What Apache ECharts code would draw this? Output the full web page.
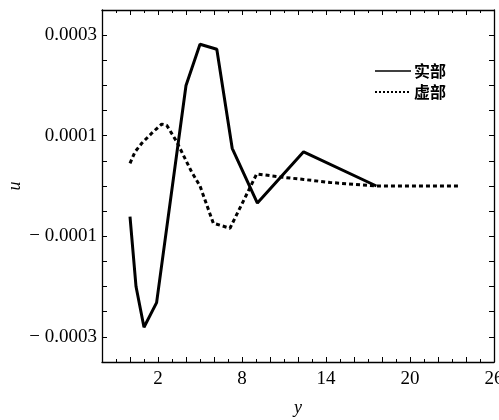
<!DOCTYPE html>
<html>
<head>
<meta charset="utf-8">
<script src="https://cdn.jsdelivr.net/npm/echarts@6/dist/echarts.min.js"></script>
<style>html,body{margin:0;padding:0;background:#fff;}#c{width:499px;height:420px;}</style>
</head>
<body>
<div id="c"></div>
<script>
// Real part (实部): [y, u]
const realX = [0, 0.43, 1.0, 1.9, 4.0, 5.0, 6.2, 7.3, 9.1, 12.4, 17.6];
const realU = [-0.61e-4, -2.0e-4, -2.81e-4, -2.32e-4, 2.0e-4, 2.82e-4, 2.72e-4, 0.75e-4, -0.34e-4, 0.68e-4, 0];
// Imaginary part (虚部)
const imagX = [0, 0.36, 0.84, 1.55, 2.26, 2.62, 3.34, 4.4, 5.0, 5.95, 7.14, 9.05, 10.7, 12.4, 14.3, 17.6, 23.6];
const imagU = [0.45e-4, 0.68e-4, 0.85e-4, 1.05e-4, 1.23e-4, 1.21e-4, 0.88e-4, 0.28e-4, 0, -0.74e-4, -0.84e-4, 0.24e-4, 0.18e-4, 0.13e-4, 0.07e-4, 0, 0];
const xTickLabels = [2, 8, 14, 20, 26];
const yTickLabels = [0.0003, 0.0001, -0.0001, -0.0003];
const seriesNames = ['实部', '虚部'];

const serif = "'Liberation Serif','Times New Roman','Noto Sans CJK SC',serif";
const zip = (xs, ys) => xs.map((x, i) => [x, ys[i]]);

const chart = echarts.init(document.getElementById('c'));
const baseX = {
  type: 'value', min: -2, max: 26, interval: 2,
  axisLine: { show: true, onZero: false, lineStyle: { color: '#000', width: 1.3 } },
  axisTick: { show: true, inside: true, length: 5, lineStyle: { color: '#000' } },
  minorTick: { show: true, splitNumber: 2, length: 3, lineStyle: { color: '#000' } },
  splitLine: { show: false }
};
const baseY = {
  type: 'value', min: -0.00035, max: 0.00035, interval: 0.00005,
  axisLine: { show: true, onZero: false, lineStyle: { color: '#000', width: 1.3 } },
  axisTick: { show: true, inside: true, length: 5, lineStyle: { color: '#000' } },
  splitLine: { show: false }
};
const fmtY = v => {
  for (const t of yTickLabels) {
    if (Math.abs(v - t) < 1e-9) {
      return t < 0 ? '\u2212 ' + Math.abs(t).toFixed(4) : t.toFixed(4);
    }
  }
  return '';
};
const fmtX = v => {
  for (const t of xTickLabels) if (Math.abs(v - t) < 1e-6) return String(t);
  return '';
};

chart.setOption({
  animation: false,
  backgroundColor: '#fff',
  grid: { left: 102, right: 5, top: 10, bottom: 58, containLabel: false, outerBoundsMode: 'none' },
  legend: {
    orient: 'vertical', left: 369, top: 58, itemWidth: 36, itemHeight: 10, itemGap: 5,
    itemStyle: { opacity: 0 },
    textStyle: { fontFamily: "'Noto Sans CJK SC',serif", fontSize: 16, fontWeight: 'bold', color: '#000', padding: [0, 0, 0, -2] },
    data: [
      { name: seriesNames[0], lineStyle: { width: 1.5 } },
      { name: seriesNames[1], lineStyle: { width: 2, type: [2, 2] } }
    ]
  },
  xAxis: [
    Object.assign({}, baseX, {
      position: 'bottom', name: 'y', nameLocation: 'middle', nameGap: 37, nameMoveOverlap: false,
      nameTextStyle: { fontFamily: serif, fontStyle: 'italic', fontSize: 18, color: '#000' },
      axisLabel: { show: true, formatter: fmtX, margin: 8, fontFamily: serif, fontSize: 19, color: '#000' }
    }),
    Object.assign({}, baseX, { position: 'top', axisLabel: { show: false } })
  ],
  yAxis: [
    Object.assign({}, baseY, {
      position: 'left', name: 'u', nameLocation: 'middle', nameGap: 78, nameRotate: 90, nameMoveOverlap: false,
      nameTextStyle: { fontFamily: serif, fontStyle: 'italic', fontSize: 18, color: '#000' },
      axisLabel: { show: true, formatter: fmtY, margin: 5, fontFamily: serif, fontSize: 19, color: '#000' }
    }),
    Object.assign({}, baseY, { position: 'right', axisLabel: { show: false } })
  ],
  series: [
    { name: seriesNames[0], type: 'line', data: zip(realX, realU), showSymbol: false, symbol: 'none',
      lineStyle: { color: '#000', width: 3, type: 'solid' }, itemStyle: { color: '#000' } },
    { name: seriesNames[1], type: 'line', data: zip(imagX, imagU), showSymbol: false, symbol: 'none',
      lineStyle: { color: '#000', width: 3, type: [4, 3] }, itemStyle: { color: '#000' } }
  ]
});
</script>
</body>
</html>
